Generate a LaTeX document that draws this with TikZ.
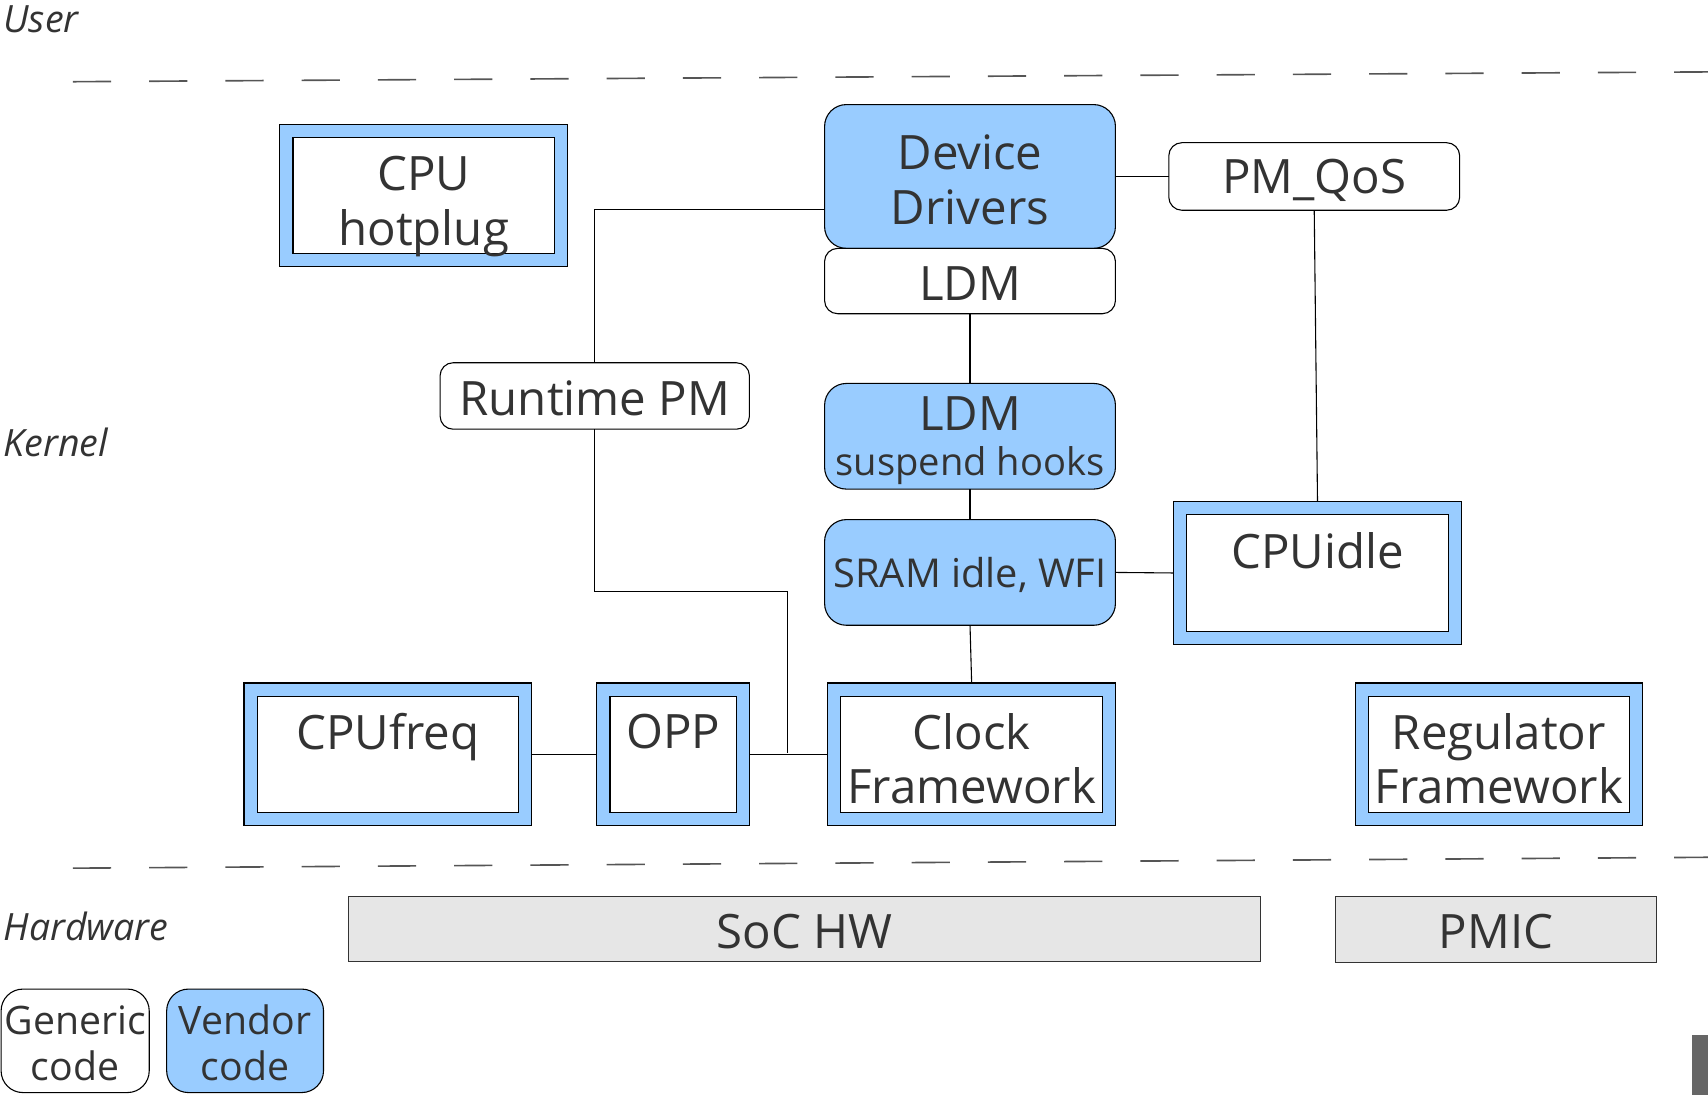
\documentclass[tikz,border=0pt]{standalone}
\usepackage{fontspec}
\setmainfont{Open Sans}
\definecolor{vendorblue}{HTML}{99CCFF}
\definecolor{txt}{HTML}{333333}
\definecolor{hwgray}{HTML}{E6E6E6}
\definecolor{layerline}{HTML}{555555}
\newcommand{\biglabel}{\fontsize{43.5}{50}\selectfont}
\newcommand{\smalllabel}{\fontsize{35}{40}\selectfont}
\newcommand{\sramlabel}{\fontsize{36.5}{42}\selectfont}
\newcommand{\sidelabel}{\fontsize{34.5}{40}\selectfont\itshape}
\newcommand{\legendlabel}{\fontsize{36}{42}\selectfont}
\begin{document}
\begin{tikzpicture}[x=1pt,y=-1pt,
  base/.style={inner sep=0pt, outer sep=0pt, line width=1pt},
  words/.style={inner sep=0pt, outer sep=0pt, text=txt, align=center, font=\biglabel, yshift=-4pt},
  genbox/.style={base, draw=black, fill=white, rounded corners=12pt},
  vendround/.style={genbox, fill=vendorblue, rounded corners=20pt},
  frameout/.style={base, draw=black, fill=vendorblue, minimum width=264pt, minimum height=131pt},
  framein/.style={base, draw=black, fill=white, minimum width=240pt, minimum height=107pt},
  hwbox/.style={base, draw=txt, fill=hwgray},
  layer/.style={draw=layerline, line width=1.5pt, dash pattern=on 35pt off 35pt},
  side/.style={inner sep=0pt, text=txt, anchor=west, font=\sidelabel},
  link/.style={draw=black, line width=1pt}
]
\useasboundingbox (0,0) rectangle (1568,1005);

% layer separators
\draw[layer] (67,75) -- (1568,66);
\draw[layer] (67,797) -- (1568,787);

% layer names
\node[side] (user) at (3,18) {User};
\node[side] (kernel) at (3,406) {Kernel};
\node[side] (hw) at (3,850) {Hardware};

% vendor framework boxes (blue frame around a white panel)
\node[frameout] (hotplug) at (389,179.5) {};
\node[framein] (hotplugIn) at (hotplug) {};
\node[words, yshift=-6pt] (hotplugT) at (hotplug) {CPU\\hotplug};

\node[frameout, minimum width=265pt, minimum height=132pt] (cpuidle) at (1209.5,526) {};
\node[framein, minimum width=241pt, minimum height=108pt] (cpuidleIn) at (cpuidle) {};
\node[words] (cpuidleT) at (cpuidle) {CPUidle\\~};

\node[frameout] (cpufreq) at (356,692.5) {};
\node[framein] (cpufreqIn) at (cpufreq) {};
\node[words] (cpufreqT) at (cpufreq) {CPUfreq\\~};

\node[frameout, minimum width=140pt] (opp) at (618,692.5) {};
\node[framein, minimum width=116pt] (oppIn) at (opp) {};
\node[words] (oppT) at (opp) {OPP\\~};

\node[frameout] (clock) at (892,692.5) {};
\node[framein] (clockIn) at (clock) {};
\node[words] (clockT) at (clock) {Clock\\Framework};

\node[frameout] (regulator) at (1376,692.5) {};
\node[framein] (regulatorIn) at (regulator) {};
\node[words] (regulatorT) at (regulator) {Regulator\\Framework};

% core kernel blocks
\node[vendround, minimum width=267pt, minimum height=132pt] (dd) at (890.5,162) {};
\node[words, yshift=1pt] (ddT) at (dd) {Device\\Drivers};
\node[genbox, minimum width=267pt, minimum height=60pt] (ldm) at (890.5,258) {};
\node[words, yshift=2pt] (ldmT) at (ldm) {LDM};
\node[genbox, minimum width=267pt, minimum height=62pt] (pmqos) at (1206.5,162) {};
\node[words] (pmqosT) at (pmqos) {PM\_QoS};
\node[genbox, minimum width=284pt, minimum height=61pt] (rpm) at (546,363.5) {};
\node[words, yshift=2pt] (rpmT) at (rpm) {Runtime PM};
\node[vendround, minimum width=267pt, minimum height=97pt] (hooks) at (890.5,400.5) {};
\node[words] (hooksT) at (hooks) {LDM\\[-8pt]\smalllabel suspend hooks};
\node[vendround, minimum width=267pt, minimum height=97pt] (sram) at (890.5,525.5) {};
\node[words, font=\sramlabel, yshift=2pt] (sramT) at (sram) {SRAM idle, WFI};

% hardware
\node[hwbox, minimum width=837pt, minimum height=60pt] (soc) at (738.5,853) {};
\node[words, yshift=2pt] (socT) at (soc) {SoC HW};
\node[hwbox, minimum width=295pt, minimum height=61pt] (pmic) at (1373.5,853.5) {};
\node[words, yshift=2pt] (pmicT) at (pmic) {PMIC};

% legend
\node[genbox, rounded corners=20pt, minimum width=136pt, minimum height=95pt] (generic) at (69,955.5) {};
\node[words, font=\legendlabel, yshift=2pt] (genericT) at (generic) {Generic\\code};
\node[vendround, minimum width=144pt, minimum height=95pt] (vendor) at (225,955.5) {};
\node[words, font=\legendlabel, yshift=2pt] (vendorT) at (vendor) {Vendor\\code};

% small bar in the lower right corner
\fill[fill=black!60] (1553,950) rectangle (1568,1005);

% connections
\coordinate (rpmbend) at (723,543);
\coordinate (tee) at (723,691);
\draw[link] (dd.west |- 0,192) -| (rpm.north);
\draw[link] (rpm.south) |- (rpmbend) -- (tee);
\draw[link] (cpufreq.east) -- (opp.west);
\draw[link] (opp.east) -- (clock.west);
\draw[link] (dd.east) -- (pmqos.west);
\draw[link] (pmqos.south) -- (cpuidle.north);
\draw[link] (ldm.south) -- (hooks.north);
\draw[link] (hooks.south) -- (sram.north);
\draw[link] (sram.east) -- (cpuidle.west);
\draw[link] (sram.south) -- (clock.north);
\end{tikzpicture}
\end{document}
